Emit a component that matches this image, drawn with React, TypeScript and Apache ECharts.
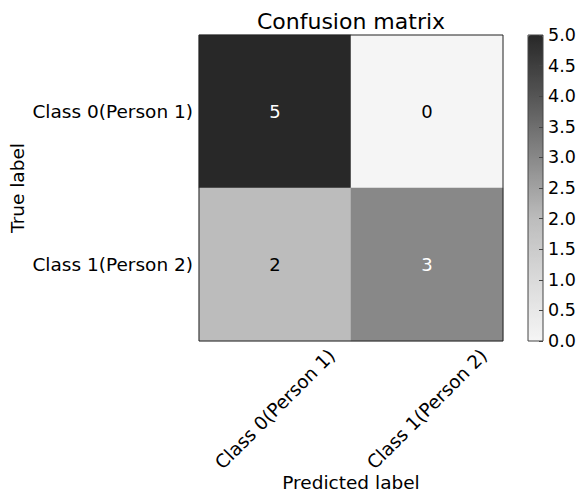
import React, { useEffect, useRef } from "react";
import * as echarts from "echarts";

const predictedCategories = ["Class 0(Person 1)", "Class 1(Person 2)"];
const trueCategories = ["Class 0(Person 1)", "Class 1(Person 2)"];
// rows = true label, columns = predicted label
const matrixRow0 = [5, 0];
const matrixRow1 = [2, 3];
const colorbarMin = 0;
const colorbarMax = 5;
const colorbarInterval = 0.5;
const grayColors = ["#f5f5f5", "#dadada", "#bcbcbc", "#888888", "#555555", "#282828"];

const FONT = "DejaVu Sans";

export default function App() {
  const ref = useRef<HTMLDivElement>(null);
  useEffect(() => {
    if (!ref.current) return;
    const chart = echarts.init(ref.current, undefined, { renderer: "svg" });
    const rows = [matrixRow0, matrixRow1];
    const thresh = colorbarMax / 2;
    const data: any[] = [];
    rows.forEach((row, yi) => {
      row.forEach((v, xi) => {
        data.push({
          value: [xi, yi, v],
          label: { color: v > thresh ? "#ffffff" : "#000000" },
        });
      });
    });
    const tickStyle = { show: true, inside: true, length: 5, alignWithLabel: true, lineStyle: { color: "#000", width: 1 } };
    chart.setOption({
      animation: false,
      backgroundColor: "#ffffff",
      textStyle: { fontFamily: FONT },
      title: [
        {
          text: "Confusion matrix",
          left: 351,
          textAlign: "center",
          top: 10,
          padding: 0,
          textStyle: { fontFamily: FONT, fontSize: 22, fontWeight: "normal", color: "#000" },
        },
        {
          text: "Predicted label",
          left: 351,
          textAlign: "center",
          top: 473,
          padding: 0,
          textStyle: { fontFamily: FONT, fontSize: 18.5, fontWeight: "normal", color: "#000" },
        },
      ],
      grid: [
        { left: 199, top: 35, width: 304, height: 306, show: true, borderColor: "#222", borderWidth: 1, backgroundColor: "transparent", z: 5, outerBoundsMode: "none", containLabel: false },
        { left: 528, top: 35, width: 15, height: 306, show: true, borderColor: "#444", borderWidth: 1, backgroundColor: "transparent", z: 5, outerBoundsMode: "none", containLabel: false },
      ],
      visualMap: {
        show: true,
        type: "continuous",
        min: colorbarMin,
        max: colorbarMax,
        seriesIndex: 0,
        dimension: 2,
        calculable: false,
        hoverLink: false,
        left: 528,
        top: 35,
        padding: 0,
        itemWidth: 15,
        itemHeight: 306,
        text: undefined,
        showLabel: false,
        inRange: { color: grayColors },
      },
      xAxis: [
        {
          type: "category",
          gridIndex: 0,
          data: predictedCategories,
          position: "bottom",
          axisLine: { show: false },
          axisTick: tickStyle,
          splitLine: { show: false },
          axisLabel: {
            rotate: 45,
            align: "center",
            verticalAlign: "middle",
            margin: 68,
            fontSize: 18.5,
            color: "#000",
            fontFamily: FONT,
          },
        },
        {
          type: "category",
          gridIndex: 0,
          data: predictedCategories,
          position: "top",
          axisLine: { show: false },
          axisTick: tickStyle,
          axisLabel: { show: false },
          splitLine: { show: false },
        },
        {
          type: "category",
          gridIndex: 1,
          data: ["colorbar"],
          show: false,
        },
      ],
      yAxis: [
        {
          type: "category",
          gridIndex: 0,
          data: trueCategories,
          inverse: true,
          axisLine: { show: false },
          axisTick: tickStyle,
          splitLine: { show: false },
          axisLabel: { fontSize: 18.5, color: "#000", margin: 6, fontFamily: FONT },
          name: "True label",
          nameLocation: "middle",
          nameGap: 182,
          nameRotate: 90,
          nameMoveOverlap: false,
          nameTextStyle: { fontSize: 18.5, color: "#000", fontFamily: FONT, verticalAlign: "middle" },
        },
        {
          type: "category",
          gridIndex: 0,
          data: trueCategories,
          inverse: true,
          position: "right",
          axisLine: { show: false },
          axisTick: tickStyle,
          axisLabel: { show: false },
          splitLine: { show: false },
        },
        {
          type: "value",
          gridIndex: 1,
          min: colorbarMin,
          max: colorbarMax,
          interval: colorbarInterval,
          position: "right",
          axisLine: { show: false },
          axisTick: { show: true, inside: true, length: 4, lineStyle: { color: "#444" } },
          splitLine: { show: false },
          z: 6,
          axisLabel: {
            fontSize: 17.5,
            color: "#000",
            margin: 5,
            fontFamily: FONT,
            formatter: (v: number) => v.toFixed(1),
          },
        },
      ],
      series: [
        {
          type: "heatmap",
          xAxisIndex: 0,
          yAxisIndex: 0,
          data,
          label: { show: true, fontSize: 18, fontFamily: FONT, formatter: (p: any) => String(p.value[2]) },
          itemStyle: { borderWidth: 0 },
          emphasis: { disabled: true },
        },
      ],
    });
    return () => chart.dispose();
  }, []);
  return <div ref={ref} style={{ position: "absolute", left: 0, top: 0, width: 578, height: 496 }} />;
}
